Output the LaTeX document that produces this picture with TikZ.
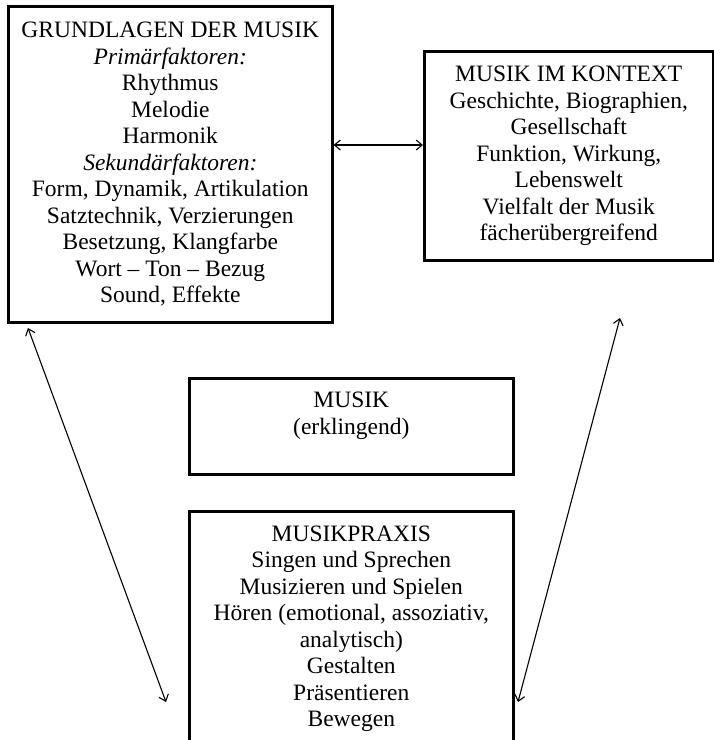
\documentclass[tikz,border=0pt]{standalone}
\usepackage{fontspec}
\setmainfont{Liberation Serif}
\usetikzlibrary{arrows.meta}

\begin{document}
\begin{tikzpicture}[
    x=1pt, y=-1pt,
    box/.style={draw=black, line width=2.6pt, inner sep=0pt,
                align=center, anchor=north west,
                font=\fontsize{23.5}{26.5}\selectfont},
    arr/.style={{Straight Barb[length=6pt,width=10pt]}-{Straight Barb[length=6pt,width=10pt]},
                line width=1.1pt},
]
\clip (0,0) rectangle (714,740);

% Grundlagen (top left)
\node[box, minimum width=324pt, minimum height=316pt] (grund) at (7,5)
    {GRUNDLAGEN DER MUSIK\\ \textit{Primärfaktoren:}\\ Rhythmus\\ Melodie\\
     Harmonik\\ \textit{Sekundärfaktoren:}\\ Form, Dynamik, Artikulation\\
     Satztechnik, Verzierungen\\ Besetzung, Klangfarbe\\
     Wort -- Ton -- Bezug\\ Sound, Effekte};

% Kontext (top right)
\node[box, minimum width=289pt, minimum height=209pt] (kontext) at (423,50)
    {MUSIK IM KONTEXT\\ Geschichte, Biographien,\\ Gesellschaft\\
     Funktion, Wirkung,\\ Lebenswelt\\ Vielfalt der Musik\\
     fächerübergreifend};

% Musik (middle)
\node[box, minimum width=324pt, minimum height=96pt] (musik) at (188,377)
    {MUSIK\\ (erklingend)\\ \mbox{}};

% Musikpraxis (bottom)
\node[box, minimum width=324pt, minimum height=235pt] (praxis) at (188,510)
    {MUSIKPRAXIS\\ Singen und Sprechen\\ Musizieren und Spielen\\
     Hören (emotional, assoziativ,\\ analytisch)\\ Gestalten\\
     Präsentieren\\ Bewegen};

% free ends of the links
\coordinate (link) at (377,145);
\coordinate (gl-top) at (28,328);
\coordinate (gl-bot) at (166,702);
\coordinate (kx-top) at (620,318);
\coordinate (kx-bot) at (518,702);

\draw[arr] (grund.east |- link) -- (kontext.west |- link);
\draw[arr] (gl-top) -- (gl-bot);
\draw[arr] (kx-top) -- (kx-bot);

\end{tikzpicture}
\end{document}
